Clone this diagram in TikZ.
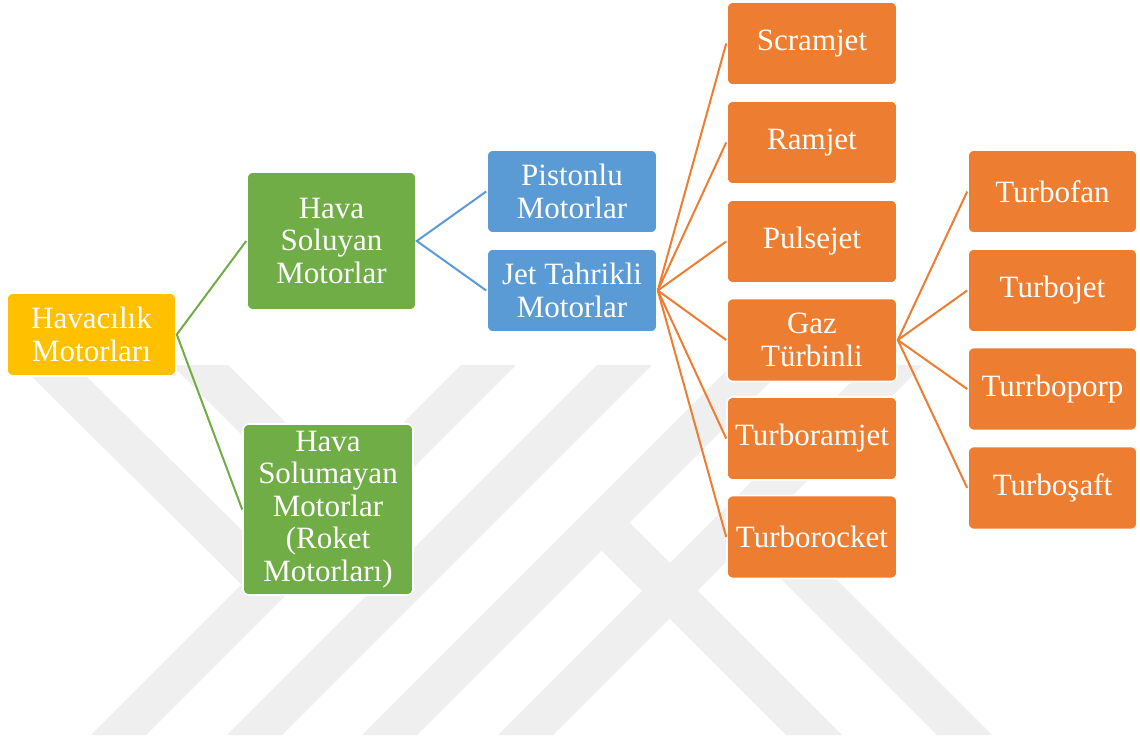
\documentclass[tikz,border=0pt]{standalone}
\usepackage{fontspec}
\setmainfont{Liberation Serif}
\definecolor{wmark}{RGB}{239,239,239}
\definecolor{cyellow}{HTML}{FFC000}
\definecolor{cgreen}{HTML}{70AD47}
\definecolor{cblue}{HTML}{5B9BD5}
\definecolor{corange}{HTML}{ED7D31}
\begin{document}
\begin{tikzpicture}[x=0.75pt,y=-0.75pt,
  box/.style={draw=white, line width=1.2pt, rounded corners=4.5pt, text=white,
    align=center, inner sep=0pt, minimum width=127.5pt, minimum height=62.25pt,
    font=\fontsize{23.25pt}{24.4pt}\selectfont},
  ybox/.style={box, fill=cyellow},
  gbox/.style={box, fill=cgreen},
  bbox/.style={box, fill=cblue},
  obox/.style={box, fill=corange},
  link/.style={line width=1.5pt}]

\fill[white] (0,0) rectangle (1140,742);
\useasboundingbox (0,0) rectangle (1140,742);

% faint background emblem: four rising bands and four falling arms
\begin{scope}[fill=wmark]
  \fill (22,367) -- (77,367) -- (269,557) -- (241.5,584.5) -- cycle;
  \fill (172,365) -- (228,365) -- (412.5,549.5) -- (384.5,577.5) -- cycle;
  \fill (992,735) -- (937,735) -- (745,543) -- (772.5,515.5) -- cycle;
  \fill (842,735) -- (786,735) -- (601.5,550.5) -- (629.5,522.5) -- cycle;
  \fill (91,735) -- (146,735) -- (516,365) -- (461,365) -- cycle;
  \fill (227,735) -- (282,735) -- (652,365) -- (597,365) -- cycle;
  \fill (362,735) -- (417,735) -- (787,365) -- (732,365) -- cycle;
  \fill (498,735) -- (553,735) -- (923,365) -- (868,365) -- cycle;
\end{scope}

% level 1
\node[ybox, minimum width=126.75pt] (hav) at (91.5,334.5) {Havacılık\\Motorları};
% level 2
\node[gbox, minimum width=126.75pt, minimum height=103.5pt] (soluyan) at (331.5,241) {Hava\\Soluyan\\Motorlar};
\node[gbox, minimum height=128.25pt] (solumayan) at (328,509.5) {Hava\\Solumayan\\Motorlar\\(Roket\\Motorları)};
% level 3
\node[bbox] (piston) at (572,191.5) {Pistonlu\\Motorlar};
\node[bbox] (jet) at (572,290.5) {Jet Tahrikli\\Motorlar};
% level 4
\node[obox] (scram) at (812,43.5) {Scramjet};
\node[obox] (ram) at (812,142.5) {Ramjet};
\node[obox] (pulse) at (812,241.5) {Pulsejet};
\node[obox] (gaz) at (812,340) {Gaz\\Türbinli};
\node[obox] (tramjet) at (812,438.5) {Turboramjet};
\node[obox] (trocket) at (812,537) {Turborocket};
% level 5
\node[obox, minimum width=126.75pt] (tfan) at (1052.5,191.5) {Turbofan};
\node[obox, minimum width=126.75pt] (tjet) at (1052.5,290.5) {Turbojet};
\node[obox, minimum width=126.75pt] (tprop) at (1052.5,389) {Turrboporp};
\node[obox, minimum width=126.75pt] (tshaft) at (1052.5,488) {Turboşaft};

% connectors
\draw[link, cgreen] (soluyan.west) -- (hav.east) -- (solumayan.west);
\draw[link, cblue] (piston.west) -- (soluyan.east) -- (jet.west);
\foreach \t in {scram,ram,pulse,gaz,tramjet,trocket}
  \draw[link, corange] (jet.east) -- (\t.west);
\foreach \t in {tfan,tjet,tprop,tshaft}
  \draw[link, corange] (gaz.east) -- (\t.west);
\end{tikzpicture}
\end{document}
